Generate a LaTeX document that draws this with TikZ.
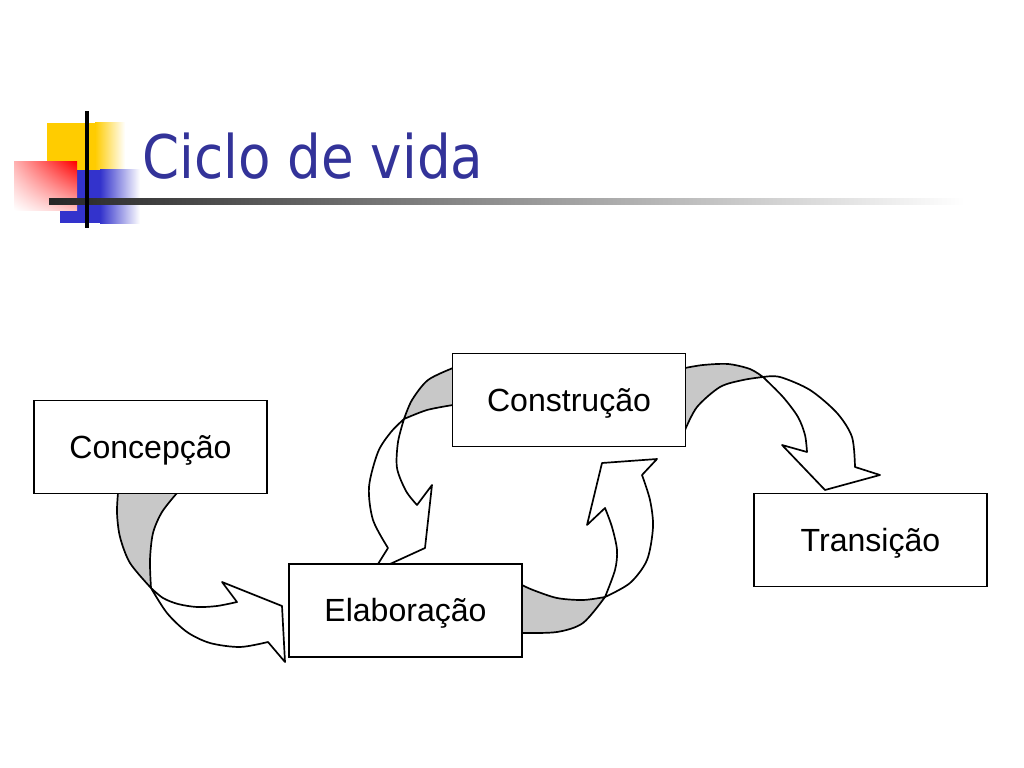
\documentclass[tikz,border=0pt]{standalone}
\usepackage{fontspec}
\usetikzlibrary{shadings}
\setmainfont{Liberation Sans}
\newfontfamily\titlefont{DejaVu Sans}

\definecolor{titleblue}{RGB}{51,51,153}
\definecolor{foldgray}{RGB}{200,200,200}
\definecolor{decoyellow}{RGB}{255,204,0}
\definecolor{decoblue}{RGB}{51,51,204}

\tikzstyle{phase_box}=[draw=black,line width=1.2pt,fill=white,minimum width=5.825cm,minimum height=2.325cm,inner sep=0pt,text height=16.3pt,text depth=0pt,font=\fontsize{22.8}{26}\selectfont]
\tikzstyle{back_fold}=[draw=black,line width=1.2pt,fill=foldgray,line join=round]
\tikzstyle{front_fold}=[draw=black,line width=1.2pt,fill=white,line join=round]

\begin{document}
\begin{tikzpicture}[x=0.025cm,y=-0.025cm]
\useasboundingbox (0,0) rectangle (1024,768);

% title decoration
\fill[decoyellow] (47,123) rectangle (95,170);
\shade[left color=decoyellow,right color=white] (95,123) rectangle (125,170);
\fill[decoblue] (60,170) rectangle (100,223);
\shade[left color=decoblue,right color=white] (100,170) rectangle (140,223);
\shade[upper right=red,upper left=red!30,lower right=red!25,lower left=white] (14,162) rectangle (77,210);
\shade[left color=black!85,right color=white] (49,198) rectangle (965,204);
\draw[line width=2.2pt] (87,111) -- (87,228);

\node[anchor=base west,inner sep=0pt,text=titleblue,font=\titlefont\fontsize{42.7}{50}\selectfont,xscale=0.885] (title) at (142,178) {Ciclo de vida};

% Concepcao -> Elaboracao
\filldraw[back_fold] plot[smooth] coordinates {(118,493) (117,513) (120,537) (130,563) (151,588)}
  -- plot[smooth] coordinates {(151,588) (150,560) (153,533) (162,512) (177,493)} -- cycle;
\filldraw[front_fold] plot[smooth] coordinates {(151,588) (163,598) (178,604) (197,607) (217,606) (237,602)}
  -- (222,582) -- (282,606) -- (285,662) -- (268,642)
  -- plot[smooth] coordinates {(268,642) (240,647) (210,643) (187,632) (167,613) (151,588)} -- cycle;

% Construcao -> Elaboracao
\filldraw[back_fold] plot[smooth] coordinates {(453,368) (428,380) (412,400) (404,419)}
  -- plot[smooth] coordinates {(404,419) (427,410) (453,405)} -- cycle;
\filldraw[front_fold] plot[smooth] coordinates {(404,419) (398,442) (397,468) (406,491) (417,505)}
  -- (432,485) -- (425,548) -- (390,564) -- (378,564) -- (388,548)
  -- plot[smooth] coordinates {(388,548) (373,520) (369,487) (378,452) (391,432) (404,419)} -- cycle;

% Elaboracao -> Construcao
\filldraw[back_fold] plot[smooth] coordinates {(522,585) (533,590) (557,598) (583,600) (605,597)}
  -- plot[smooth] coordinates {(605,597) (583,623) (557,632) (522,633)} -- cycle;
\filldraw[front_fold] plot[smooth] coordinates {(605,597) (615,570) (617,550) (612,527) (605,508)}
  -- (587,525) -- (602,463) -- (657,459) -- (642,475)
  -- plot[smooth] coordinates {(642,475) (650,500) (653,527) (647,560) (630,583) (605,597)} -- cycle;

% Construcao -> Transicao
\filldraw[back_fold] plot[smooth] coordinates {(685,368) (703,365) (728,364) (750,369) (763,377)}
  -- plot[smooth] coordinates {(763,377) (743,380) (720,387) (697,407) (685,430)} -- cycle;
\filldraw[front_fold] plot[smooth] coordinates {(763,377) (783,397) (798,417) (805,435) (807,452)}
  -- (782,445) -- (825,490) -- (880,475) -- (855,467)
  -- plot[smooth] coordinates {(855,467) (852,437) (837,413) (810,390) (780,377) (763,377)} -- cycle;

% phases
\node[phase_box] (concepcao) at (150.5,447) {Concepção};
\node[phase_box] (elaboracao) at (405.5,610.5) {Elaboração};
\node[phase_box] (construcao) at (569,400) {Construção};
\node[phase_box] (transicao) at (870.5,540) {Transição};

\end{tikzpicture}
\end{document}
